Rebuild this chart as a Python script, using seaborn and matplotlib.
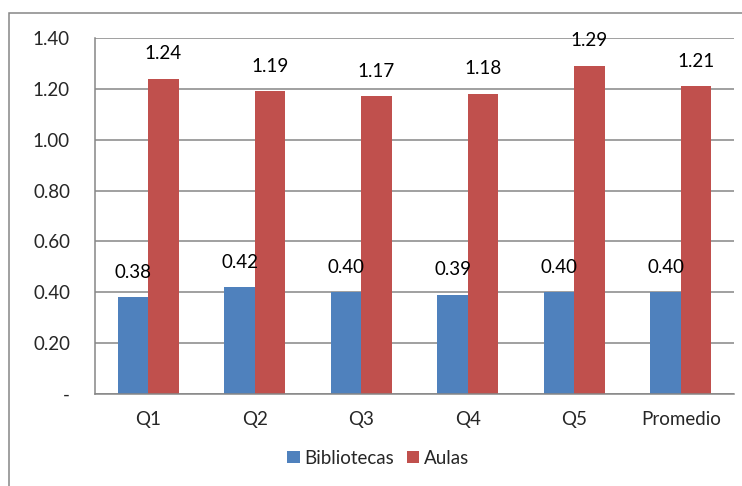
#!/usr/bin/env python3
# Bibliotecas vs Aulas per quintile, Excel-like grouped bars.

import pandas as pd
import seaborn as sns
import matplotlib.pyplot as plt
from matplotlib.patches import Rectangle
from matplotlib.ticker import FuncFormatter

# Data
categories = ["Q1", "Q2", "Q3", "Q4", "Q5", "Promedio"]
bibliotecas = [0.38, 0.42, 0.40, 0.39, 0.40, 0.40]
aulas = [1.24, 1.19, 1.17, 1.18, 1.29, 1.21]
series_names = ["Bibliotecas", "Aulas"]
yticks = [0.0, 0.2, 0.4, 0.6, 0.8, 1.0, 1.2, 1.4]

BLUE = "#4F81BD"
RED = "#C0504D"
GREY = "#868686"
FS = 13.5

rows = []
for cat, b, a in zip(categories, bibliotecas, aulas):
  rows.append({"cat": cat, "serie": series_names[0], "val": b})
  rows.append({"cat": cat, "serie": series_names[1], "val": a})
df = pd.DataFrame(data=rows)

sns.set_style("white")
plt.rcParams['font.family'] = ['Lato', 'DejaVu Sans']

fig = plt.figure(figsize=(7.42, 4.86), dpi=100)
ax = fig.add_axes([95/742, 1 - 394/486, (734 - 95)/742, (394 - 38)/486])

sns.barplot(data=df, x="cat", y="val", hue="serie", order=categories,
            hue_order=series_names, palette=[BLUE, RED], width=0.571,
            saturation=1, errorbar=None, ax=ax, legend=True, linewidth=0)

# value labels
for cont in ax.containers:
  for bar in cont:
    h = bar.get_height()
    ax.annotate("{:.2f}".format(h), (bar.get_x() + bar.get_width()/2, h),
                xytext=(0, 18), textcoords="offset points",
                ha="center", va="center", fontsize=FS, color="black")

ax.set_ylim(0, 1.4)
ax.set_xlim(-0.5, len(categories) - 0.5)
ax.set_yticks(yticks)
ax.yaxis.set_major_formatter(FuncFormatter(lambda v, p: "-" if abs(v) < 1e-9 else "{:.2f}".format(v)))
ax.grid(axis="y", color=GREY, linewidth=1.1)
ax.set_axisbelow(True)

# ticks between categories, like Excel
ax.set_xticks([i - 0.5 for i in range(len(categories) + 1)], minor=True)
ax.tick_params(axis="x", which="major", length=0, labelsize=FS, pad=12)
ax.tick_params(axis="x", which="minor", length=6, color=GREY, width=1.1, direction="out")
ax.tick_params(axis="y", length=6, color=GREY, width=1.1, direction="out", labelsize=FS, pad=12)
ax.set_xlabel("")
ax.set_ylabel("")

for side in ["top", "right"]:
  ax.spines[side].set_visible(False)
for side in ["left", "bottom"]:
  ax.spines[side].set_color(GREY)
  ax.spines[side].set_linewidth(1.1)

handles, labels = ax.get_legend_handles_labels()
ax.get_legend().remove()
fig.legend(handles, labels, loc="center", bbox_to_anchor=(0.51, 1 - 458/486),
           ncol=2, frameon=False, fontsize=FS, handlelength=0.65,
           handleheight=0.65, handletextpad=0.25, columnspacing=0.7)

# chart area border
fig.patches.append(Rectangle((9/742, -0.05), 1.2, 1.05 - 13/486, transform=fig.transFigure,
                             fill=False, edgecolor=GREY, linewidth=1.1))

plt.savefig("out.png", dpi=100)
